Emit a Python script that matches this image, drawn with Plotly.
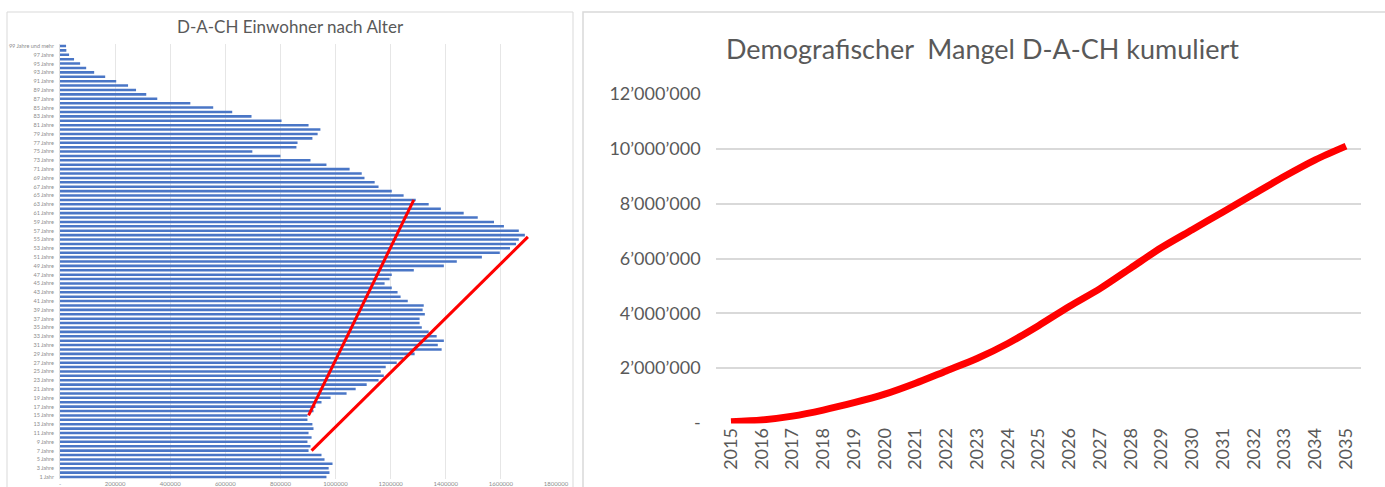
"""D-A-CH Einwohner nach Alter und kumulierter demografischer Mangel."""

import plotly.graph_objects as go

W, H = 1385, 487
SCHRIFT = "Lato, 'Noto Sans', sans-serif"
GRAU_TEXT = "#595959"
GRAU_LINIE = "#D9D9D9"

# Einwohner je Altersjahr (1 Jahr .. 99 Jahre und mehr)
alter = list(range(1, 100))
einwohner = [
    967000, 978000, 975000, 989000, 960000, 949000, 902000, 909000, 898000, 913000,
    902000, 920000, 916000, 898000, 898000, 920000, 927000, 949000, 982000, 1040000,
    1073000, 1113000, 1156000, 1175000, 1164000, 1182000, 1222000, 1247000, 1287000, 1385000,
    1371000, 1393000, 1367000, 1338000, 1313000, 1305000, 1305000, 1324000, 1316000, 1320000,
    1262000, 1236000, 1225000, 1204000, 1178000, 1196000, 1204000, 1284000, 1393000, 1440000,
    1531000, 1596000, 1633000, 1655000, 1665000, 1687000, 1665000, 1611000, 1575000, 1516000,
    1465000, 1382000, 1338000, 1291000, 1247000, 1204000, 1156000, 1142000, 1105000, 1095000,
    1051000, 967000, 909000, 800000, 698000, 858000, 862000, 916000, 935000, 945000,
    902000, 804000, 695000, 625000, 556000, 473000, 353000, 313000, 276000, 247000,
    204000, 164000, 124000, 95000, 73000, 51000, 33000, 23000, 22000,
]
alter_ticks = list(range(1, 100, 2))
alter_labels = [
    "1 Jahr" if a == 1 else ("99 Jahre und mehr" if a == 99 else f"{a} Jahre")
    for a in alter_ticks
]
x_ticks = list(range(0, 1800001, 200000))
x_labels = ["-"] + [str(v) for v in x_ticks[1:]]

# eingezeichnete Kohorten-Linien (Alter, Einwohner)
linie1_alter = [15, 64]
linie1_wert = [902000, 1284000]
linie2_alter = [7, 55.6]
linie2_wert = [913000, 1698000]

# Demografischer Mangel kumuliert
jahre = [str(j) for j in range(2015, 2036)]
mangel = [
    47000, 110000, 250000, 470000, 740000, 1050000, 1450000, 1900000, 2350000, 2900000,
    3550000, 4250000, 4900000, 5650000, 6400000, 7050000, 7700000, 8350000, 9000000,
    9600000, 10100000,
]
y2_ticks = list(range(0, 12000001, 2000000))
y2_labels = ["-"] + [f"{v:,}".replace(",", "\u2019") for v in y2_ticks[1:]]


def px_x(p):
    return p / W


def px_y(p):
    return 1 - p / H


fig = go.Figure()

fig.add_trace(go.Bar(
    x=einwohner, y=alter,
    orientation="h",
    marker=dict(color="#4A76C6", line=dict(width=0)),
    xaxis="x", yaxis="y",
    showlegend=False,
))
for a, v in ((linie1_alter, linie1_wert), (linie2_alter, linie2_wert)):
    fig.add_trace(go.Scatter(
        x=v, y=a, mode="lines",
        line=dict(color="#FF0000", width=3),
        xaxis="x", yaxis="y",
        showlegend=False,
    ))

fig.add_trace(go.Scatter(
    x=jahre, y=mangel, mode="lines",
    line=dict(color="#FF0000", width=7, shape="spline", smoothing=0.8),
    xaxis="x2", yaxis="y2",
    showlegend=False,
))

fig.update_layout(
    width=W, height=H,
    margin=dict(l=0, r=0, t=0, b=0),
    paper_bgcolor="white",
    plot_bgcolor="white",
    font=dict(family=SCHRIFT, color=GRAU_TEXT),
    bargap=0.42,
    xaxis=dict(
        domain=[px_x(60), px_x(556)],
        range=[0, 1800000],
        tickvals=x_ticks, ticktext=x_labels,
        tickfont=dict(size=6, color="#8C8C8C"),
        showgrid=True, gridcolor="#E6E6E6", gridwidth=1,
        zeroline=False, showline=False,
        anchor="y", automargin=False,
    ),
    yaxis=dict(
        domain=[px_y(479.2), px_y(43.8)],
        range=[0.5, 99.5],
        tickvals=alter_ticks, ticktext=alter_labels,
        tickfont=dict(size=5.5, color="#8C8C8C"),
        showgrid=False, zeroline=False,
        showline=True, linecolor="#E0E0E0",
        ticklabelstandoff=4,
        anchor="x", automargin=False,
    ),
    xaxis2=dict(
        domain=[px_x(715.6), px_x(1361.4)],
        type="category",
        range=[-0.5, 20.5],
        tickangle=-90,
        tickfont=dict(size=18, color=GRAU_TEXT),
        showgrid=False, zeroline=False, showline=False,
        anchor="y2", automargin=False,
    ),
    yaxis2=dict(
        domain=[px_y(423.5), px_y(93.5)],
        range=[-20000, 12020000],
        tickvals=y2_ticks, ticktext=y2_labels,
        tickfont=dict(size=18, color=GRAU_TEXT),
        showgrid=True, gridcolor=GRAU_LINIE, gridwidth=1.5,
        zeroline=False, showline=False,
        ticklabelstandoff=14,
        anchor="x2", automargin=False,
    ),
)

# Rahmen der beiden Diagramme
fig.add_shape(type="rect", xref="paper", yref="paper",
              x0=px_x(7), x1=px_x(573), y0=-0.1, y1=px_y(12),
              line=dict(color=GRAU_LINIE, width=1), layer="below")
fig.add_shape(type="rect", xref="paper", yref="paper",
              x0=px_x(583), x1=1.1, y0=-0.1, y1=px_y(12),
              line=dict(color=GRAU_LINIE, width=1.5), layer="below")

fig.add_annotation(text="D-A-CH Einwohner nach Alter",
                   xref="paper", yref="paper", x=px_x(290), y=px_y(27),
                   xanchor="center", yanchor="middle",
                   showarrow=False, font=dict(size=17, color=GRAU_TEXT))
fig.add_annotation(text="Demografischer  Mangel D-A-CH kumuliert",
                   xref="paper", yref="paper", x=px_x(982), y=px_y(48),
                   xanchor="center", yanchor="middle",
                   showarrow=False, font=dict(size=27, color=GRAU_TEXT))

fig.write_html("out.html", config={"displayModeBar": False},
               post_script="document.body.style.margin='0';")
